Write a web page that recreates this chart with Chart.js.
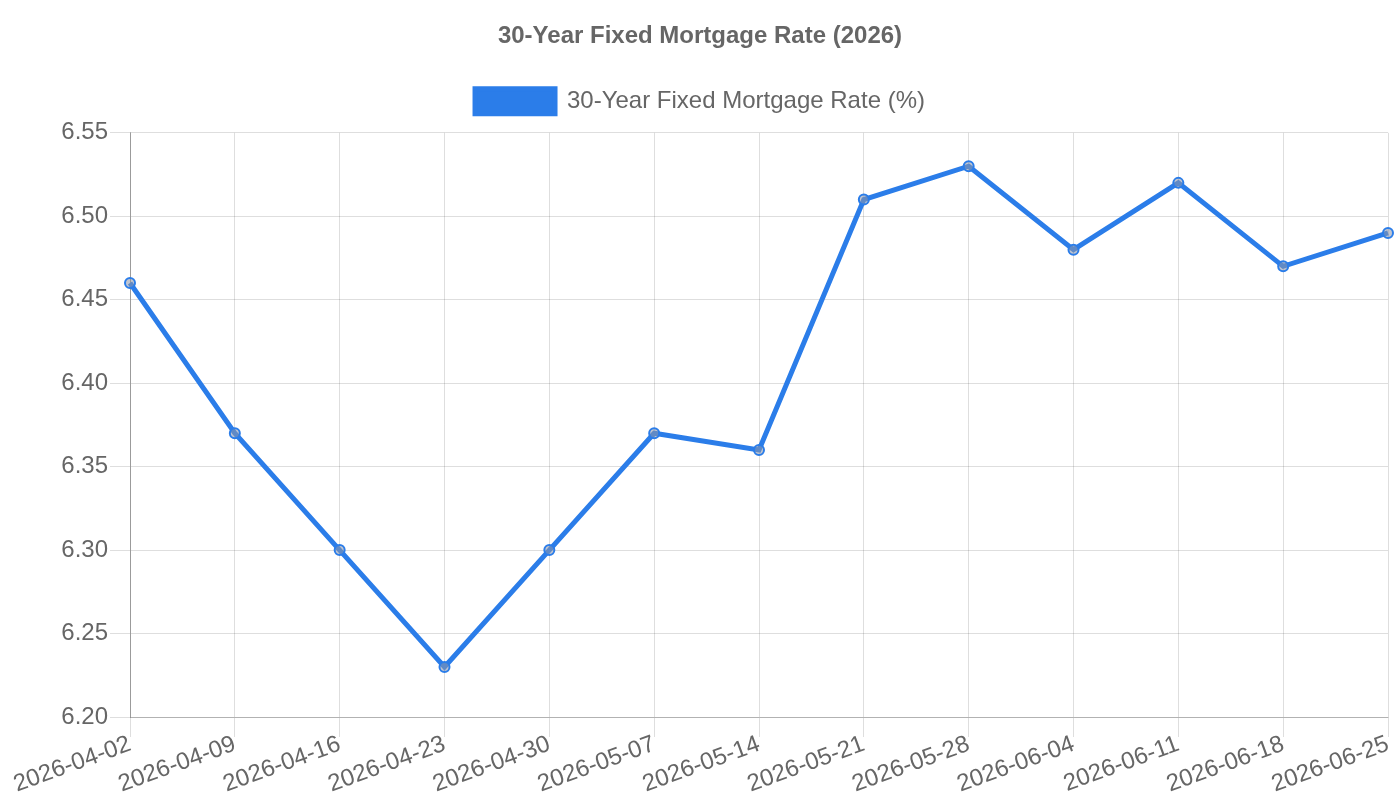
<!DOCTYPE html>
<html>
<head>
<meta charset="utf-8">
<script src="https://cdn.jsdelivr.net/npm/chart.js@4/dist/chart.umd.min.js"></script>
<style>
  html, body { margin: 0; padding: 0; background: #fff; }
  #wrap { width: 1400px; height: 800px; }
</style>
</head>
<body>
<div id="wrap"><canvas id="rate"></canvas></div>
<script>
(function () {
  'use strict';

  const weeks = ['2026-04-02', '2026-04-09', '2026-04-16', '2026-04-23', '2026-04-30',
    '2026-05-07', '2026-05-14', '2026-05-21', '2026-05-28', '2026-06-04',
    '2026-06-11', '2026-06-18', '2026-06-25'];
  const rates = [6.46, 6.37, 6.30, 6.23, 6.30, 6.37, 6.36, 6.51, 6.53, 6.48, 6.52, 6.47, 6.49];
  const seriesLabel = '30-Year Fixed Mortgage Rate (%)';
  const chartTitle = '30-Year Fixed Mortgage Rate (2026)';

  Chart.defaults.font.family = '"Liberation Sans", Arial, sans-serif';
  Chart.defaults.color = '#666';

  // Leave a bit more room between the legend and the plot
  const legendGap = {
    id: 'legendGap',
    beforeInit(chart) {
      const fit = chart.legend.fit;
      chart.legend.fit = function () {
        fit.call(this);
        this.height += 9;
      };
    }
  };

  const ctx = document.getElementById('rate').getContext('2d');

  window.rateChart = new Chart(ctx, {
    type: 'line',
    data: {
      labels: weeks,
      datasets: [
        {
          label: seriesLabel,
          data: rates,
          borderColor: '#2b7de9',
          backgroundColor: '#2b7de9',
          borderWidth: 5,
          pointRadius: 5,
          pointBorderWidth: 2,
          pointBackgroundColor: 'rgba(140,150,170,0.55)',
          pointBorderColor: '#2b7de9',
          tension: 0,
          fill: false
        }
      ]
    },
    plugins: [legendGap],
    options: {
      responsive: true,
      maintainAspectRatio: false,
      animation: false,
      layout: { padding: { right: 12, left: 12, bottom: 0 } },
      plugins: {
        title: {
          display: true,
          text: chartTitle,
          font: { size: 24, weight: 'bold' },
          padding: { top: 22, bottom: 28 }
        },
        legend: {
          labels: {
            boxWidth: 80,
            boxHeight: 25,
            font: { size: 24 }
          }
        },
        tooltip: { enabled: false }
      },
      scales: {
        x: {
          grid: { tickLength: 20, color: 'rgba(0,0,0,0.13)' },
          border: { color: 'rgba(0,0,0,0.2)' },
          ticks: {
            font: { size: 24 },
            minRotation: 20,
            maxRotation: 20,
            padding: -7
          },
          afterFit(scale) { scale.height = 83; }
        },
        y: {
          min: 6.20,
          max: 6.55,
          border: { color: 'rgba(0,0,0,0.3)' },
          grid: { tickLength: 20, color: 'rgba(0,0,0,0.13)' },
          ticks: {
            stepSize: 0.05,
            font: { size: 24 },
            padding: 2,
            callback: (v) => Number(v).toFixed(2)
          },
          afterFit(scale) { scale.width = 118; }
        }
      }
    }
  });
})();
</script>
</body>
</html>
